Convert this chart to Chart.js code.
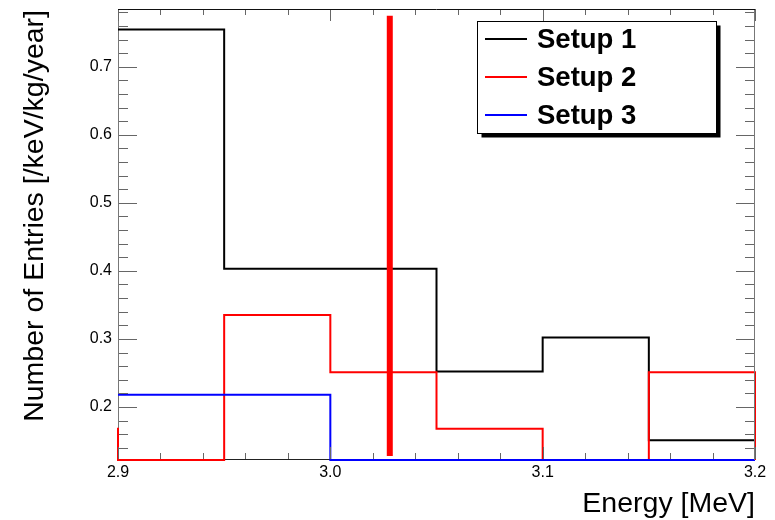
<!DOCTYPE html>
<html>
<head>
<meta charset="utf-8">
<script src="https://cdn.jsdelivr.net/npm/chart.js@4/dist/chart.umd.min.js"></script>
<style>
  html, body { margin: 0; padding: 0; background: #fff; }
  #wrap { width: 775px; height: 520px; }
</style>
</head>
<body>
<div id="wrap"><canvas id="c" width="775" height="520"></canvas></div>
<script>
// ---- data ----
const binEdges = [2.90, 2.95, 3.00, 3.05, 3.10, 3.15, 3.20];
const seriesNames = ["Setup 1", "Setup 2", "Setup 3"];
const setup1 = [0.755, 0.403, 0.403, 0.252, 0.302, 0.151];
const setup2 = [0.084, 0.335, 0.251, 0.168, 0.084, 0.251];
const setup3 = [0.218, 0.218, 0.0, 0.0, 0.0, 0.0];
const setup2PrevBin = 0.168;   // bin 2.85-2.90, just outside the axis range
const setup2NextBin = 0.0;     // bin 3.20-3.25, outside the axis range
const markerEnergy = 3.028;
const markerRange = [0.128, 0.775];
const xTickValues = [2.9, 3.0, 3.1, 3.2];
const yTickValues = [0.2, 0.3, 0.4, 0.5, 0.6, 0.7];
const xRange = [2.9, 3.2];
const yRange = [0.122, 0.785];
const xTitle = "Energy [MeV]";
const yTitle = "Number of Entries [/keV/kg/year]";

const clampY = v => Math.max(v, yRange[0]);
function stepPoints(vals, prev, next) {
  const pts = [];
  const w = binEdges[1] - binEdges[0];
  if (prev !== undefined) pts.push({x: binEdges[0] - w, y: clampY(prev)});
  vals.forEach((v, i) => pts.push({x: binEdges[i], y: clampY(v)}));
  const last = binEdges[binEdges.length - 1];
  pts.push({x: last, y: clampY(next !== undefined ? next : vals[vals.length - 1])});
  return pts;
}

const colors = ["#000000", "#ff0000", "#0000ff"];
const FONT = "'Liberation Sans', Arial, Helvetica, sans-serif";

const rootFrame = {
  id: 'rootFrame',
  beforeDatasetsDraw(chart) {
    // left and bottom axis lines drawn under the histograms
    const ctx = chart.ctx, a = chart.chartArea;
    ctx.save();
    ctx.lineWidth = 1;
    ctx.strokeStyle = '#777';
    ctx.beginPath();
    ctx.moveTo(Math.round(a.left) + 0.5, a.top); ctx.lineTo(Math.round(a.left) + 0.5, a.bottom);
    ctx.stroke();
    ctx.strokeStyle = '#222';
    ctx.beginPath();
    ctx.moveTo(a.left, Math.round(a.bottom) - 0.5); ctx.lineTo(a.right, Math.round(a.bottom) - 0.5);
    ctx.stroke();
    ctx.restore();
  },
  afterDatasetsDraw(chart) {
    const ctx = chart.ctx;
    const a = chart.chartArea;
    const xs = chart.scales.x, ys = chart.scales.y;
    ctx.save();
    // ticks
    ctx.lineWidth = 1;
    ctx.strokeStyle = '#666';
    ctx.beginPath();
    for (let k = 0; k <= 15; k++) {
      const v = xRange[0] + k * 0.02;
      const px = Math.round(xs.getPixelForValue(v)) + 0.5;
      const major = (k % 5 === 0);
      const L = major ? 13 : 7;
      ctx.moveTo(px, a.bottom - 1); ctx.lineTo(px, a.bottom - L);
      ctx.moveTo(px, a.top); ctx.lineTo(px, a.top + (major ? 12 : 6));
    }
    for (let k = 7; k <= 39; k++) {
      const v = k * 0.02;
      if (v < yRange[0] || v > yRange[1]) continue;
      const py = Math.round(ys.getPixelForValue(v)) + 0.5;
      const major = (k % 5 === 0);
      const L = major ? 19 : 10;
      ctx.moveTo(a.left + 1, py); ctx.lineTo(a.left + L, py);
      ctx.moveTo(a.right, py); ctx.lineTo(a.right - L, py);
    }
    ctx.stroke();
    // frame (right and top)
    ctx.strokeStyle = '#777';
    ctx.beginPath();
    ctx.moveTo(Math.round(a.right) - 0.5, a.top); ctx.lineTo(Math.round(a.right) - 0.5, a.bottom);
    ctx.stroke();
    ctx.strokeStyle = '#111';
    ctx.beginPath();
    ctx.moveTo(a.left, Math.round(a.top) + 0.5); ctx.lineTo(a.right, Math.round(a.top) + 0.5);
    ctx.stroke();

    // axis titles
    ctx.fillStyle = '#000';
    ctx.font = "28.5px " + FONT;
    ctx.textAlign = 'right';
    ctx.textBaseline = 'alphabetic';
    ctx.fillText(xTitle, a.right, 512);
    ctx.save();
    ctx.translate(43, a.top + 1);
    ctx.rotate(-Math.PI / 2);
    ctx.textAlign = 'right';
    ctx.fillText(yTitle, 0, 0);
    ctx.restore();

    // legend (ROOT style box with shadow)
    const bx = 477.5, by = 21.5, bw = 239, bh = 112;
    ctx.fillStyle = '#000';
    ctx.fillRect(bx + 4, by + 4, bw, bh);
    ctx.fillStyle = '#fff';
    ctx.fillRect(bx, by, bw, bh);
    ctx.strokeStyle = '#000';
    ctx.lineWidth = 1;
    ctx.strokeRect(bx, by, bw, bh);
    const rowY = [39, 77, 115];
    ctx.font = "bold 27.5px " + FONT;
    ctx.textAlign = 'left';
    ctx.textBaseline = 'alphabetic';
    chart.data.datasets.slice(0, 3).forEach((ds, i) => {
      ctx.strokeStyle = ds.borderColor;
      ctx.lineWidth = 2;
      ctx.beginPath();
      ctx.moveTo(485, rowY[i]); ctx.lineTo(527, rowY[i]);
      ctx.stroke();
      ctx.fillStyle = '#000';
      ctx.fillText(ds.label, 537, rowY[i] + 9);
    });
    ctx.restore();
  }
};

const datasets = [
  {label: seriesNames[0], data: stepPoints(setup1), borderColor: colors[0], order: 3},
  {label: seriesNames[1], data: stepPoints(setup2, setup2PrevBin, setup2NextBin), borderColor: colors[1], order: 2},
  {label: seriesNames[2], data: stepPoints(setup3), borderColor: colors[2], order: 1},
].map(d => Object.assign(d, {stepped: true, borderWidth: 2, pointRadius: 0, fill: false, tension: 0,
                             clip: {left: 1, top: 0, right: 1, bottom: 1}}));

datasets.push({
  label: 'marker',
  data: [{x: markerEnergy, y: markerRange[0]}, {x: markerEnergy, y: markerRange[1]}],
  borderColor: '#ff0000', borderWidth: 6, borderCapStyle: 'butt', pointRadius: 0, order: 0
});

new Chart(document.getElementById('c'), {
  type: 'line',
  data: {datasets},
  options: {
    responsive: false,
    animation: false,
    devicePixelRatio: 1,
    layout: {padding: {top: 9, right: 20, left: 0, bottom: 0}},
    plugins: {legend: {display: false}, tooltip: {enabled: false}},
    scales: {
      x: {
        type: 'linear', min: xRange[0], max: xRange[1],
        afterBuildTicks: s => { s.ticks = xTickValues.map(v => ({value: v})); },
        afterFit: s => { s.height = 60; s.paddingLeft = 0; s.paddingRight = 0; },
        grid: {display: false, drawTicks: false},
        border: {display: false},
        ticks: {color: '#000', padding: 3, maxRotation: 0, autoSkip: false,
                font: {family: FONT, size: 16}, callback: v => Number(v).toFixed(1)}
      },
      y: {
        type: 'linear', min: yRange[0], max: yRange[1],
        afterBuildTicks: s => { s.ticks = yTickValues.map(v => ({value: v})); },
        afterFit: s => { s.width = 118; s.paddingTop = 0; s.paddingBottom = 0; },
        grid: {display: false, drawTicks: false},
        border: {display: false},
        ticks: {color: '#000', padding: 6, autoSkip: false,
                font: {family: FONT, size: 16}, callback: v => Number(v).toFixed(1)}
      }
    }
  },
  plugins: [rootFrame]
});
</script>
</body>
</html>
